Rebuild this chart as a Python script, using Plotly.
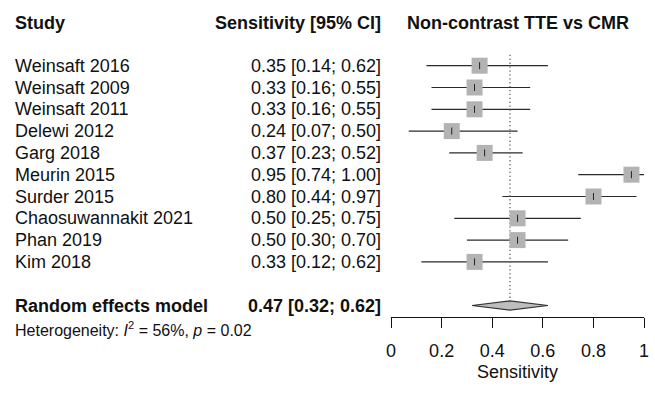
import plotly.graph_objects as go

# ---- data ----
studies = ["Weinsaft 2016", "Weinsaft 2009", "Weinsaft 2011", "Delewi 2012", "Garg 2018",
           "Meurin 2015", "Surder 2015", "Chaosuwannakit 2021", "Phan 2019", "Kim 2018"]
sens = [0.35, 0.33, 0.33, 0.24, 0.37, 0.95, 0.80, 0.50, 0.50, 0.33]
lower = [0.14, 0.16, 0.16, 0.07, 0.23, 0.74, 0.44, 0.25, 0.30, 0.12]
upper = [0.62, 0.55, 0.55, 0.50, 0.52, 1.00, 0.97, 0.75, 0.70, 0.62]
pooled_est = 0.47
pooled_lo = 0.32
pooled_hi = 0.62
i2 = 56
p_het = 0.02
tick_vals = [0, 0.2, 0.4, 0.6, 0.8, 1]
tick_labels = ["0", "0.2", "0.4", "0.6", "0.8", "1"]

W, H = 655, 395
FONT = "Liberation Sans, Arial, Helvetica, sans-serif"
rows = list(range(len(studies)))
pooled_row = len(studies) + 1

fig = go.Figure()

# CI lines
lx, ly = [], []
for r, lo, hi in zip(rows, lower, upper):
    lx += [lo, hi, None]
    ly += [r, r, None]
fig.add_trace(go.Scatter(x=lx, y=ly, mode="lines", line=dict(color="#2a2a2a", width=1.2),
                         hoverinfo="skip", showlegend=False))

# reference dotted line
fig.add_trace(go.Scatter(x=[pooled_est, pooled_est], y=[-0.5, pooled_row - 0.25], mode="lines",
                         line=dict(color="#666666", width=1.3, dash="1.3px,2.6px"),
                         hoverinfo="skip", showlegend=False))

# squares
fig.add_trace(go.Scatter(x=sens, y=rows, mode="markers",
                         marker=dict(symbol="square", size=16, color="#b3b3b3",
                                     line=dict(width=0)),
                         hoverinfo="skip", showlegend=False))
# centre tick
fig.add_trace(go.Scatter(x=sens, y=rows, mode="markers",
                         marker=dict(symbol="line-ns", size=5, color="#222222",
                                     line=dict(width=1, color="#222222")),
                         hoverinfo="skip", showlegend=False))

# diamond
h = 0.21
fig.add_trace(go.Scatter(x=[pooled_lo, pooled_est, pooled_hi, pooled_est, pooled_lo],
                         y=[pooled_row, pooled_row - h, pooled_row, pooled_row + h, pooled_row],
                         mode="lines", fill="toself", fillcolor="#bdbdbd",
                         line=dict(color="#333333", width=1.2),
                         hoverinfo="skip", showlegend=False))

ann = []
def px(x):
    return x / W

LEFT = 8
hdr_row = -1.95
ann.append(dict(text="<b>Study</b>", x=px(LEFT), y=hdr_row, xref="paper", yref="y",
                xanchor="left", yanchor="middle", showarrow=False, font=dict(size=18)))
ann.append(dict(text="<b>Sensitivity [95% CI]</b>", x=px(384), y=hdr_row, xref="paper", yref="y",
                xanchor="right", yanchor="middle", showarrow=False, font=dict(size=18)))
ann.append(dict(text="<b>Non-contrast TTE vs CMR</b>", x=0.5, y=hdr_row, xref="x", yref="y",
                xanchor="center", yanchor="middle", showarrow=False, font=dict(size=18)))

for r, s, lo, hi, st in zip(rows, sens, lower, upper, studies):
    ann.append(dict(text=st, x=px(LEFT), y=r, xref="paper", yref="y",
                    xanchor="left", yanchor="middle", showarrow=False, font=dict(size=18)))
    ann.append(dict(text=f"{s:.2f} [{lo:.2f}; {hi:.2f}]", x=px(384), y=r, xref="paper", yref="y",
                    xanchor="right", yanchor="middle", showarrow=False, font=dict(size=18)))

ann.append(dict(text="<b>Random effects model</b>", x=px(LEFT), y=pooled_row, xref="paper", yref="y",
                xanchor="left", yanchor="middle", showarrow=False, font=dict(size=18)))
ann.append(dict(text=f"<b>{pooled_est:.2f} [{pooled_lo:.2f}; {pooled_hi:.2f}]</b>", x=px(384),
                y=pooled_row, xref="paper", yref="y",
                xanchor="right", yanchor="middle", showarrow=False, font=dict(size=18)))
ann.append(dict(text=f"Heterogeneity: <i>I</i><sup>2</sup> = {i2}%, <i>p</i> = {p_het:.2f}",
                x=px(LEFT), y=pooled_row + 1.1, xref="paper", yref="y",
                xanchor="left", yanchor="middle", showarrow=False, font=dict(size=16)))

row0_px = 65.7
row_h = 21.8
y_top = -row0_px / row_h
y_bot = (H - row0_px) / row_h

fig.update_layout(
    width=W, height=H, autosize=False,
    margin=dict(l=0, r=0, t=0, b=0),
    paper_bgcolor="white", plot_bgcolor="white",
    font=dict(family=FONT, color="#111111", size=18),
    annotations=ann,
    xaxis=dict(domain=[392 / W, 649 / W], range=[0, 1], anchor="free", position=(H - 317) / H,
               showgrid=False, zeroline=False, showline=True, linecolor="#111111", linewidth=1.3,
               ticks="outside", ticklen=10, tickwidth=1.3, tickcolor="#111111",
               tickvals=tick_vals, ticktext=tick_labels, tickfont=dict(size=18),
               ticklabelstandoff=7,
               title=dict(text="Sensitivity", font=dict(size=18), standoff=5)),
    yaxis=dict(range=[y_bot, y_top], domain=[0, 1], visible=False, showgrid=False, zeroline=False),
)

post = "document.body.style.margin='0';document.body.style.overflow='hidden';"
fig.write_html("out.html", config={"displayModeBar": False}, post_script=post)
